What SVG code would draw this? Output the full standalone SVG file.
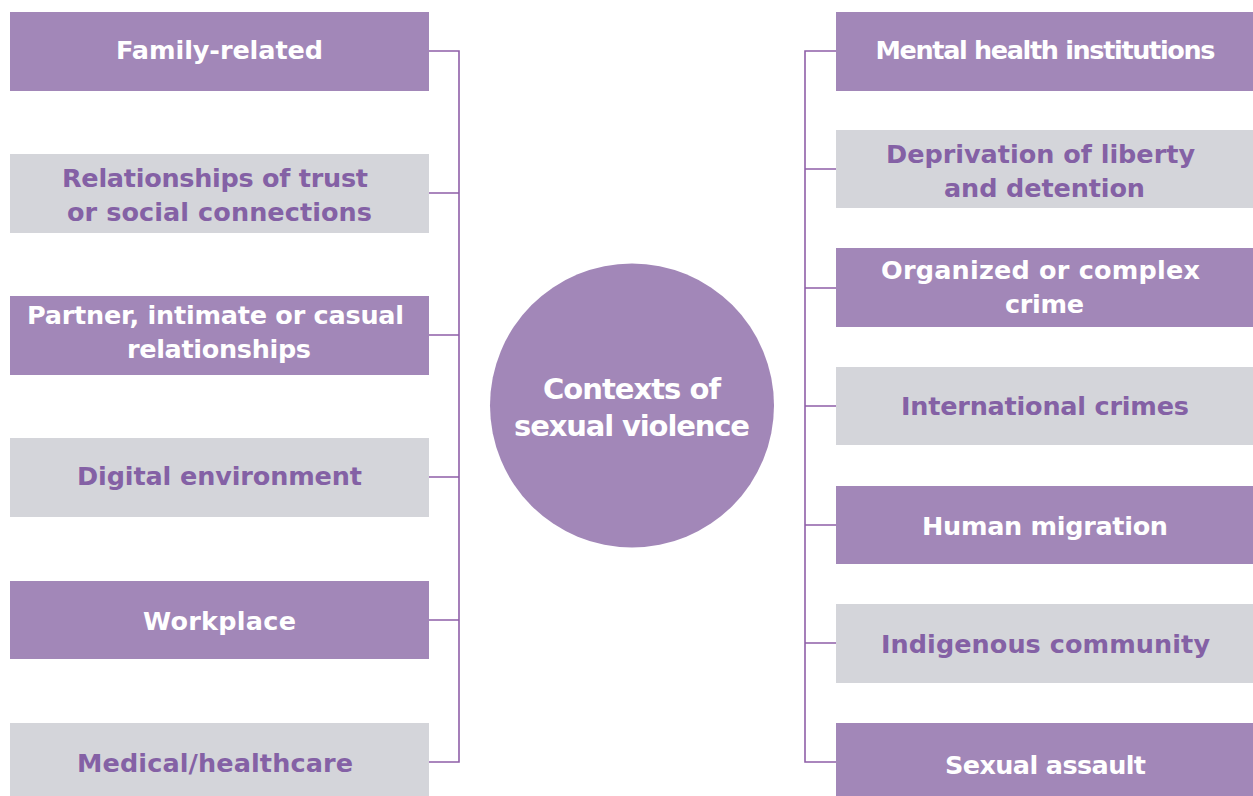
<svg xmlns="http://www.w3.org/2000/svg" width="1253" height="796" viewBox="0 0 1253 796">
  <style>
    .dark { fill: #a287b8; }
    .light { fill: #d4d5da; }
    .lbl { font-family: "DejaVu Sans", "Noto Sans", sans-serif; font-weight: bold; font-size: 25.5px; text-anchor: middle; }
    .on-dark { fill: #ffffff; }
    .on-light { fill: #8461a5; }
    .wire { fill: none; stroke: #8f5fa8; stroke-width: 1.6; }
    .hub-lbl { font-family: "DejaVu Sans", "Noto Sans", sans-serif; font-weight: bold; font-size: 29px; text-anchor: middle; fill: #ffffff; }
  </style>
  <rect width="1253" height="796" fill="#ffffff"/>

  <!-- connectors -->
  <g id="connectors">
    <path class="wire" d="M429 51H459V762H429 M459 193H429 M459 335H429 M459 477H429 M459 620H429"/>
    <path class="wire" d="M836 51H805V762H836 M805 169H836 M805 288H836 M805 406H836 M805 525H836 M805 643H836"/>
  </g>

  <!-- left column -->
  <g id="family">
    <rect class="dark" x="10" y="12" width="419" height="79"/>
    <text class="lbl on-dark" x="219.5" y="59" textLength="207" lengthAdjust="spacing">Family-related</text>
  </g>
  <g id="trust">
    <rect class="light" x="10" y="154" width="419" height="79"/>
    <text class="lbl on-light" x="215" y="187" textLength="306" lengthAdjust="spacing">Relationships of trust</text>
    <text class="lbl on-light" x="219.5" y="221" textLength="305" lengthAdjust="spacing">or social connections</text>
  </g>
  <g id="partner">
    <rect class="dark" x="10" y="296" width="419" height="79"/>
    <text class="lbl on-dark" x="215.5" y="324" textLength="377" lengthAdjust="spacing">Partner, intimate or casual</text>
    <text class="lbl on-dark" x="219" y="358" textLength="184" lengthAdjust="spacing">relationships</text>
  </g>
  <g id="digital">
    <rect class="light" x="10" y="438" width="419" height="79"/>
    <text class="lbl on-light" x="219.5" y="485" textLength="285" lengthAdjust="spacing">Digital environment</text>
  </g>
  <g id="workplace">
    <rect class="dark" x="10" y="581" width="419" height="78"/>
    <text class="lbl on-dark" x="219.5" y="630" textLength="153" lengthAdjust="spacing">Workplace</text>
  </g>
  <g id="medical">
    <rect class="light" x="10" y="723" width="419" height="78"/>
    <text class="lbl on-light" x="215" y="772" textLength="276" lengthAdjust="spacing">Medical/healthcare</text>
  </g>

  <!-- hub -->
  <g id="hub">
    <circle class="dark" cx="632" cy="405.5" r="142"/>
    <text class="hub-lbl" x="632" y="399" textLength="178" lengthAdjust="spacing">Contexts of</text>
    <text class="hub-lbl" x="632" y="436" textLength="236" lengthAdjust="spacing">sexual violence</text>
  </g>

  <!-- right column -->
  <g id="mental">
    <rect class="dark" x="836" y="12" width="417" height="79"/>
    <text class="lbl on-dark" x="1045.5" y="59" textLength="340" lengthAdjust="spacing">Mental health institutions</text>
  </g>
  <g id="deprivation">
    <rect class="light" x="836" y="130" width="417" height="78"/>
    <text class="lbl on-light" x="1040.5" y="163" textLength="309" lengthAdjust="spacing">Deprivation of liberty</text>
    <text class="lbl on-light" x="1044.5" y="197" textLength="201" lengthAdjust="spacing">and detention</text>
  </g>
  <g id="organized">
    <rect class="dark" x="836" y="248" width="417" height="79"/>
    <text class="lbl on-dark" x="1040.5" y="279" textLength="319" lengthAdjust="spacing">Organized or complex</text>
    <text class="lbl on-dark" x="1044.5" y="313" textLength="79" lengthAdjust="spacing">crime</text>
  </g>
  <g id="international">
    <rect class="light" x="836" y="367" width="417" height="78"/>
    <text class="lbl on-light" x="1045" y="415" textLength="288" lengthAdjust="spacing">International crimes</text>
  </g>
  <g id="migration">
    <rect class="dark" x="836" y="486" width="417" height="78"/>
    <text class="lbl on-dark" x="1045" y="535" textLength="246" lengthAdjust="spacing">Human migration</text>
  </g>
  <g id="indigenous">
    <rect class="light" x="836" y="604" width="417" height="79"/>
    <text class="lbl on-light" x="1045.5" y="653" textLength="329" lengthAdjust="spacing">Indigenous community</text>
  </g>
  <g id="assault">
    <rect class="dark" x="836" y="723" width="417" height="78"/>
    <text class="lbl on-dark" x="1045.5" y="774" textLength="201" lengthAdjust="spacing">Sexual assault</text>
  </g>
</svg>
